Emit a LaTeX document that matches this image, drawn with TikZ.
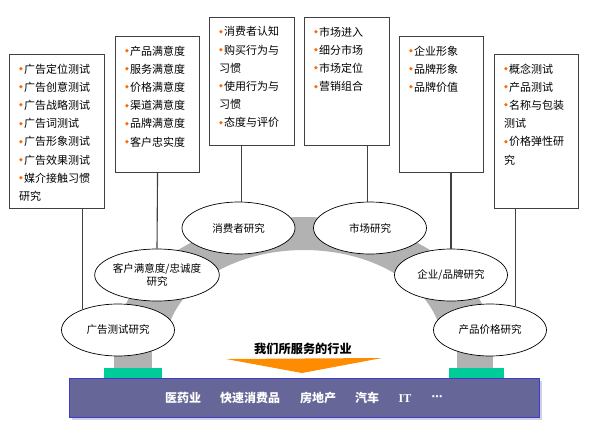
\documentclass[tikz,border=0pt]{standalone}
\usepackage{fontspec}
\setmainfont{Noto Sans CJK SC}
\newfontfamily\dejavu{DejaVu Sans}
\newfontfamily\tnr{Liberation Serif}
\usetikzlibrary{shapes.geometric}
\definecolor{bandgray}{HTML}{B2B2B2}
\definecolor{padgreen}{HTML}{00CC99}
\definecolor{barfill}{HTML}{666699}
\definecolor{barline}{HTML}{3C3CC8}
\definecolor{barshadow}{HTML}{D0D0E8}
\definecolor{bulletc}{HTML}{FF6600}
\definecolor{arrowc}{HTML}{FF8C00}
\definecolor{boxline}{HTML}{404040}
\newcommand\bul{\raisebox{2.6pt}{\textcolor{bulletc}{\dejavu\fontsize{5}{5}\selectfont ◆}}\kern1pt}
\begin{document}
\begin{tikzpicture}[x=1pt,y=-1pt,
 infobox/.style={draw=boxline, line width=1.1pt, fill=white, rectangle, inner sep=0pt, anchor=north west},
 boxtext/.style={anchor=north west, inner sep=0pt, align=left, font=\fontsize{11}{18.2}\selectfont},
 research/.style={ellipse, draw=black, line width=0.7pt, fill=white, minimum width=113pt, minimum height=52pt, inner sep=0pt, align=center, font=\fontsize{10.5}{13}\selectfont},
 hang/.style={draw=boxline, line width=1.1pt},
 industry/.style={text=white, font=\bfseries\fontsize{12}{12}\selectfont, inner sep=0pt}]
\fill[white] (0,0) rectangle (590,432);
\useasboundingbox (0,0) rectangle (590,432);
% arch band
\fill[bandgray] plot[domain=180:360,samples=90] ({304+188*cos(\x)},{345+128*sin(\x)}) -- plot[domain=360:180,samples=90] ({304+138*cos(\x)},{345+95*sin(\x)}) -- cycle;
% pillars and pads
\fill[bandgray] (114,340) rectangle (152,368);
\fill[bandgray] (457,340) rectangle (493,368);
\fill[padgreen] (104,368) rectangle (162,378);
\fill[padgreen] (449,368) rectangle (504,378);
% bar
\fill[barshadow] (72,381) rectangle (542,420);
\node[draw=barline, fill=barfill, line width=1.2pt, minimum width=470pt, minimum height=39pt, anchor=north west, inner sep=0pt] (bar) at (69,378) {};
\node[industry] (i1) at (183,398) {医药业};
\node[industry] (i2) at (250,398) {快速消费品};
\node[industry] (i3) at (318,398) {房地产};
\node[industry] (i4) at (367,398) {汽车};
\node[industry, font=\tnr\bfseries\fontsize{12}{12}\selectfont] (i5) at (405,399) {IT};
\node[industry, font=\dejavu\bfseries\fontsize{11}{11}\selectfont] (i6) at (437,398) {⋯};
% arrow and title
\fill[arrowc] (226,359) -- (382,358) -- (302,373) -- cycle;
\node[font=\bfseries\fontsize{12.2}{12}\selectfont, inner sep=0pt] (title) at (303,349) {我们所服务的行业};
% info boxes
\node[infobox, minimum width=95pt, minimum height=154pt] (b1) at (9,54) {};
\node[infobox, minimum width=84pt, minimum height=136pt] (b2) at (115,36) {};
\node[infobox, minimum width=85pt, minimum height=128pt] (b3) at (209,17) {};
\node[infobox, minimum width=85pt, minimum height=128pt] (b4) at (304,17) {};
\node[infobox, minimum width=84pt, minimum height=136pt] (b5) at (399,36) {};
\node[infobox, minimum width=84pt, minimum height=154pt] (b6) at (494,54) {};
% ellipses
\node[research] (e1) at (118,330) {广告测试研究};
\node[research] (e2) at (157,275) {客户满意度/忠诚度\\研究};
\node[research] (e3) at (238.5,228) {消费者研究};
\node[research] (e4) at (370,228) {市场研究};
\node[research] (e5) at (451,275) {企业/品牌研究};
\node[research] (e6) at (490,330) {产品价格研究};
% hanging lines
\draw[hang] (b1.south -| e1.150) -- (e1.150);
\draw[hang] (b2.south) -- (e2.north);
\draw[hang] (b3.south -| e3.84) -- (e3.84);
\draw[hang] (b4.south -| e4.96) -- (e4.96);
\draw[hang] (b5.south -| e5.north) -- (e5.north);
\draw[hang] (b6.south -| e6.43) -- (e6.43);
% box texts
\node[boxtext] (t1) at ([xshift=10pt,yshift=-9.5pt]b1.north west) {\bul 广告定位测试\\\bul 广告创意测试\\\bul 广告战略测试\\\bul 广告词测试\\\bul 广告形象测试\\\bul 广告效果测试\\\bul 媒介接触习惯\\研究};
\node[boxtext] (t2) at ([xshift=10pt,yshift=-9.5pt]b2.north west) {\bul 产品满意度\\\bul 服务满意度\\\bul 价格满意度\\\bul 渠道满意度\\\bul 品牌满意度\\\bul 客户忠实度};
\node[boxtext] (t3) at ([xshift=10pt,yshift=-9.5pt]b3.north west) {\bul 消费者认知\\\bul 购买行为与\\习惯\\\bul 使用行为与\\习惯\\\bul 态度与评价};
\node[boxtext] (t4) at ([xshift=10pt,yshift=-9.5pt]b4.north west) {\bul 市场进入\\\bul 细分市场\\\bul 市场定位\\\bul 营销组合};
\node[boxtext] (t5) at ([xshift=10pt,yshift=-9.5pt]b5.north west) {\bul 企业形象\\\bul 品牌形象\\\bul 品牌价值};
\node[boxtext] (t6) at ([xshift=10pt,yshift=-9.5pt]b6.north west) {\bul 概念测试\\\bul 产品测试\\\bul 名称与包装\\测试\\\bul 价格弹性研\\究};
\end{tikzpicture}
\end{document}
